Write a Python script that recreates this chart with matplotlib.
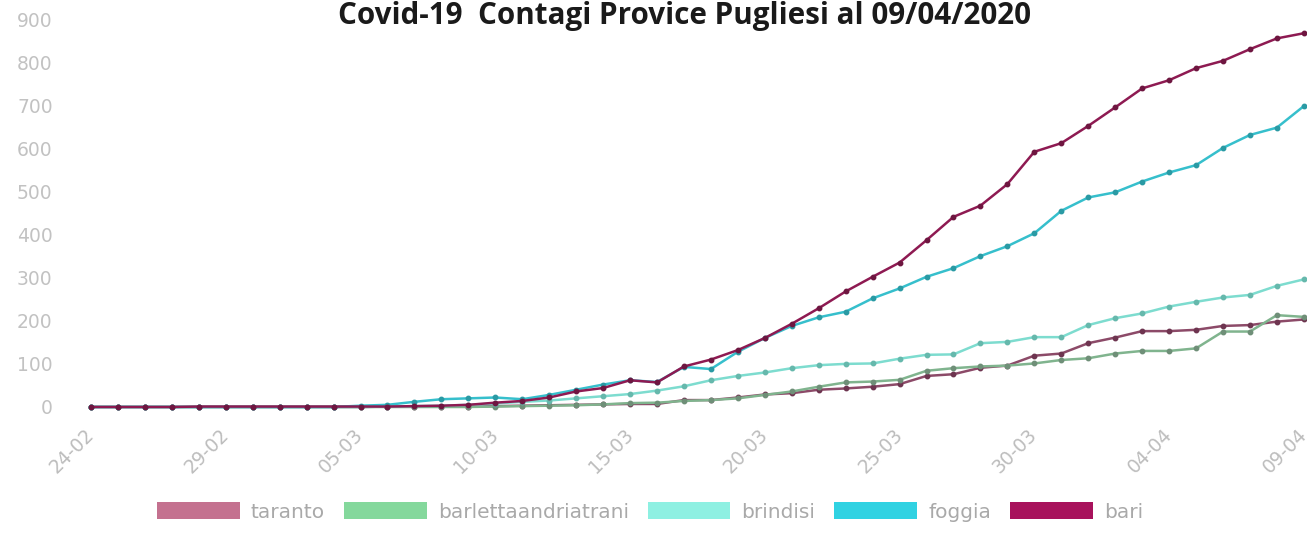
import matplotlib
matplotlib.use("Agg")
import matplotlib.pyplot as plt
from matplotlib.patches import Patch

dates = ["24-02", "25-02", "26-02", "27-02", "28-02", "29-02",
         "01-03", "02-03", "03-03", "04-03", "05-03", "06-03", "07-03", "08-03", "09-03",
         "10-03", "11-03", "12-03", "13-03", "14-03", "15-03", "16-03", "17-03", "18-03",
         "19-03", "20-03", "21-03", "22-03", "23-03", "24-03", "25-03", "26-03", "27-03",
         "28-03", "29-03", "30-03", "31-03", "01-04", "02-04", "03-04", "04-04", "05-04",
         "06-04", "07-04", "08-04", "09-04"]

taranto = [0, 0, 0, 0, 0, 0, 0, 0, 0, 0,
           0, 1, 1, 1, 1, 2, 3, 4, 5, 6,
           7, 7, 16, 16, 22, 29, 32, 40, 43, 47,
           53, 72, 76, 91, 96, 119, 124, 148, 161, 176,
           176, 179, 188, 190, 198, 203]

bat = [0, 0, 0, 0, 0, 0, 0, 0, 0, 0,
       0, 0, 0, 0, 0, 1, 2, 3, 4, 6,
       9, 10, 14, 16, 20, 28, 36, 47, 57, 59,
       63, 84, 90, 94, 96, 101, 109, 113, 124, 130,
       130, 136, 175, 175, 213, 209]

brindisi = [0, 0, 0, 0, 0, 0, 0, 0, 0, 0,
            0, 1, 2, 3, 5, 8, 12, 15, 20, 25,
            30, 38, 48, 62, 72, 80, 90, 97, 100, 101,
            112, 121, 122, 148, 151, 162, 162, 190, 206, 217,
            233, 244, 254, 260, 281, 296]

foggia = [0, 0, 0, 0, 0, 0, 0, 0, 0, 0,
          3, 5, 12, 18, 20, 22, 18, 28, 40, 52,
          62, 58, 93, 88, 128, 160, 188, 208, 221, 252,
          275, 302, 322, 350, 373, 403, 455, 486, 498, 523,
          544, 561, 601, 631, 648, 698]

bari = [0, 0, 0, 0, 1, 1, 1, 1, 1, 1,
        1, 1, 2, 3, 5, 10, 14, 22, 36, 44,
        62, 57, 94, 110, 132, 160, 193, 229, 268, 302,
        335, 387, 441, 467, 517, 592, 612, 652, 695, 739,
        758, 786, 803, 830, 855, 867]

series_names = ["taranto", "barlettaandriatrani", "brindisi", "foggia", "bari"]
series_values = [taranto, bat, brindisi, foggia, bari]
legend_colors = ["#c4718f", "#84d89c", "#8ef0e2", "#30d2e2", "#a8125c"]
line_colors = ["#8c4a68", "#80b48e", "#7ddccf", "#36bfcc", "#8e1a52"]
marker_colors = ["#6e3550", "#6f8f78", "#66b8ac", "#2a9aa4", "#6e1640"]

tick_idx = [0, 5, 10, 15, 20, 25, 30, 35, 40, 45]
y_ticks = [0, 100, 200, 300, 400, 500, 600, 700, 800, 900]

W, H = 1309, 540
fig = plt.figure(figsize=(W / 100, H / 100), dpi=100)
ax = fig.add_axes([70 / W, 1 - 415 / H, 1236 / W, 400 / H])

x = list(range(len(dates)))
for vals, lc, mc in zip(series_values, line_colors, marker_colors):
    ax.plot(x, vals, color=lc, lw=1.8, marker="o", ms=3.2,
            markerfacecolor=mc, markeredgecolor=mc, solid_joinstyle="round")

ax.set_xlim(-0.78, 45.08)
ax.set_ylim(-18.6, 909.3)
for s in ax.spines.values():
    s.set_visible(False)

ax.set_yticks(y_ticks)
ax.set_yticklabels([str(v) for v in y_ticks], fontfamily="DejaVu Sans",
                   fontsize=13.5, color="#c2c2c2")
ax.tick_params(axis="y", length=0, pad=12.5)

ax.set_xticks(tick_idx)
ax.set_xticklabels([dates[i] for i in tick_idx], rotation=45, ha="right", va="center",
                   rotation_mode="anchor", fontfamily="DejaVu Sans",
                   fontsize=13.5, color="#bdbdbd")
ax.tick_params(axis="x", length=0, pad=12)

title = fig.text(684 / W, 1 - 16 / H, "Covid-19  Contagi Provice Pugliesi al 09/04/2020",
                 ha="center", va="center", fontfamily="Open Sans", fontweight="bold",
                 fontsize=20, color="#1a1a1a")
renderer = fig.canvas.get_renderer()
w = title.get_window_extent(renderer).width
title.set_fontsize(20 * 787 / w * 0.88)

handles = [Patch(facecolor=c, edgecolor="none") for c in legend_colors]
leg = fig.legend(handles, series_names, loc="center", bbox_to_anchor=(650 / W, 1 - 512 / H),
                 ncol=5, frameon=False, handlelength=4.1, handleheight=0.9,
                 handletextpad=0.55, columnspacing=0.95,
                 prop={"family": "DejaVu Sans", "size": 14.5})
for t in leg.get_texts():
    t.set_color("#a9a9a9")

fig.savefig("out.png", dpi=100, facecolor="white")
